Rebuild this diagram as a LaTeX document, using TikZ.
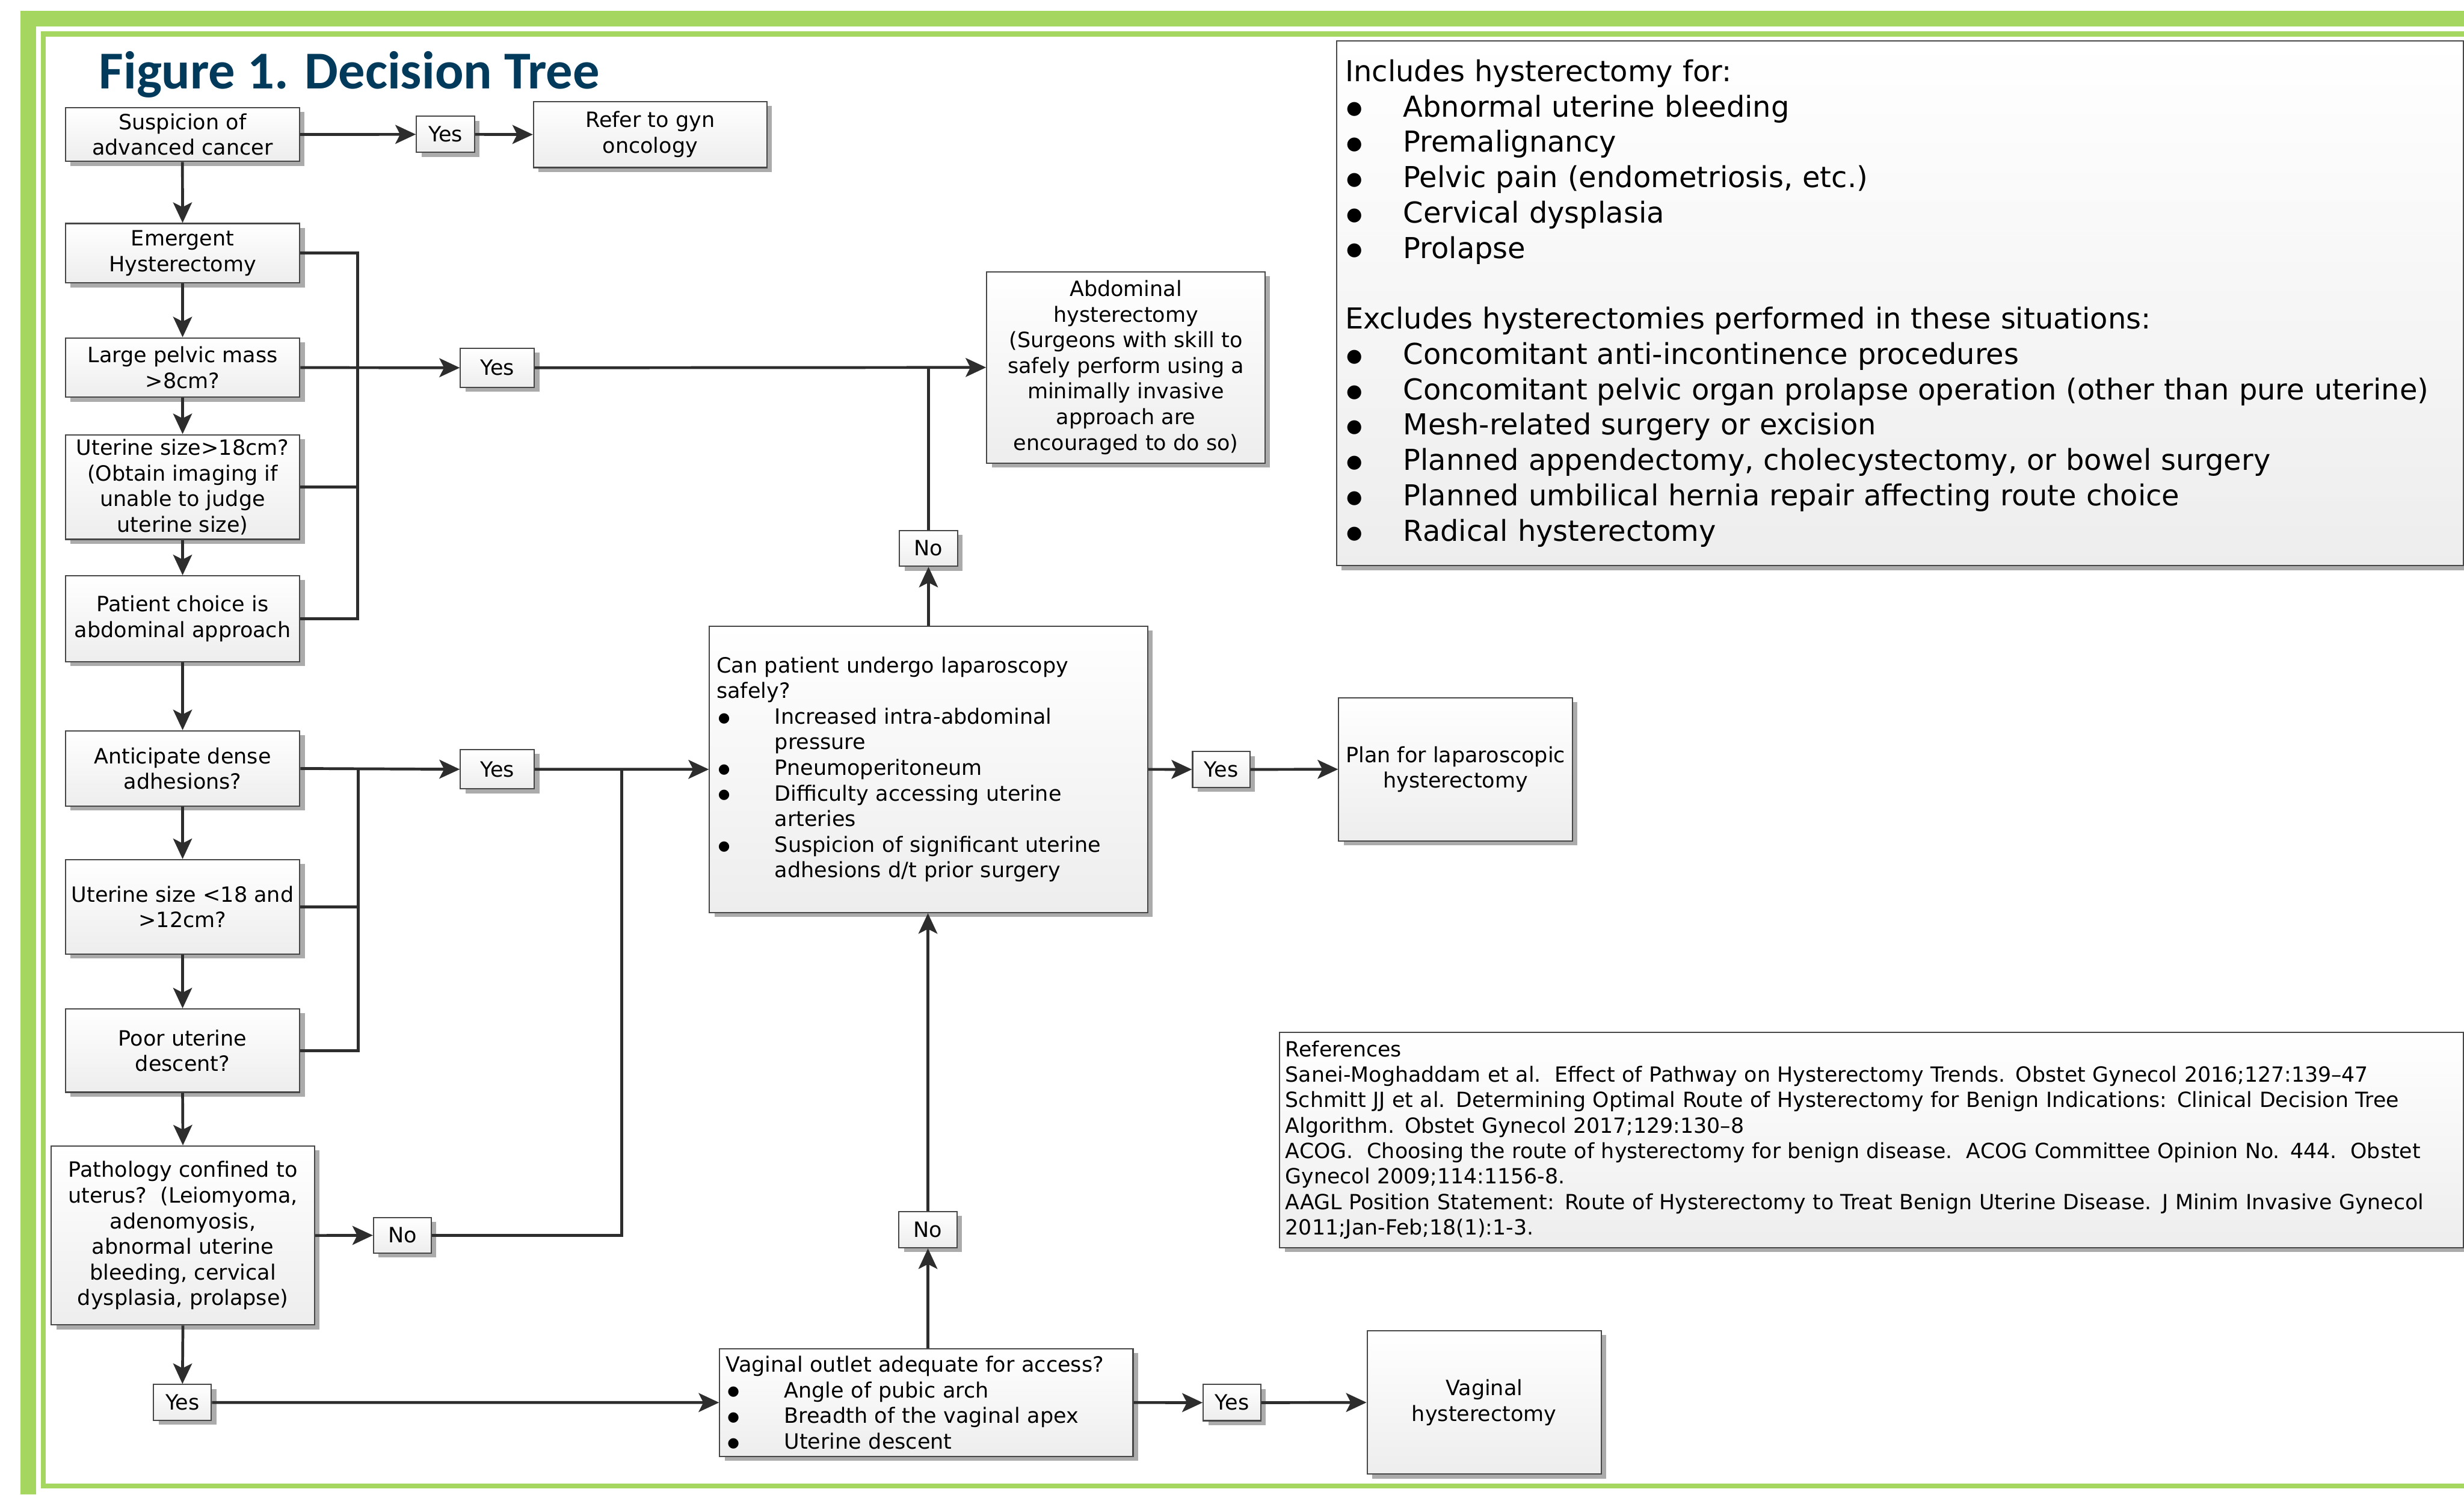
\documentclass[tikz,border=0pt]{standalone}
\usepackage{fontspec}
\setmainfont{DejaVu Sans}
\newfontfamily\titlefont{Carlito}
\usetikzlibrary{arrows.meta,shadows}
\definecolor{frameg}{RGB}{165,214,95}
\definecolor{titleblue}{RGB}{2,58,92}
\definecolor{linec}{RGB}{45,45,45}
\newcommand{\bulitem}{\makebox[37pt][l]{\hspace*{1pt}\raisebox{1.2pt}{\fontsize{8.6}{8.6}\selectfont ●}}}
\newcommand{\bigbulitem}{\makebox[37pt][l]{\hspace*{1pt}\raisebox{1.6pt}{\fontsize{11.6}{11.6}\selectfont ●}}}
\newcommand{\bulind}{\hspace*{37pt}}
\tikzset{
  fbox/.style={draw=black!72, line width=0.8pt, top color=white, bottom color=black!7,
    drop shadow={shadow xshift=3.2pt, shadow yshift=-2.8pt, fill=black!33, opacity=1},
    inner sep=0pt, align=center, font=\fontsize{13.4}{16.3}\selectfont},
  lbox/.style={fbox, align=left, inner xsep=4.5pt},
  conn/.style={draw=linec, line width=1.8pt},
  arr/.style={conn, -{Stealth[length=13pt,width=12pt,inset=3pt]}},
}
\begin{document}
\begin{tikzpicture}[x=1pt,y=-1pt]
\useasboundingbox (0,0) rectangle (1568,951);
% frame
\fill[frameg] (13,7) rectangle (1568,16.7);
\fill[frameg] (13,7) rectangle (23,951);
\fill[frameg] (26,20) rectangle (1568,23.5);
\fill[frameg] (26,20) rectangle (29,947);
\fill[frameg] (26,944) rectangle (1568,947);
% title
\node[anchor=base west, inner sep=0pt, text=titleblue,
  font=\titlefont\bfseries\fontsize{33.9}{40}\selectfont] (title) at (62.8,56.4) {Figure 1. Decision Tree};
% info boxes
\node[lbox, inner xsep=5.4pt, text width=706.1pt, minimum height=334.1pt,
  font=\fontsize{18.35}{22.5}\selectfont] (info) at (1209.05,192.95) {Includes hysterectomy for:\\
\bigbulitem Abnormal uterine bleeding\\
\bigbulitem Premalignancy\\
\bigbulitem Pelvic pain (endometriosis, etc.)\\
\bigbulitem Cervical dysplasia\\
\bigbulitem Prolapse\\[22.5pt]
Excludes hysterectomies performed in these situations:\\
\bigbulitem Concomitant anti-incontinence procedures\\
\bigbulitem Concomitant pelvic organ prolapse operation (other than pure uterine)\\
\bigbulitem Mesh-related surgery or excision\\
\bigbulitem Planned appendectomy, cholecystectomy, or bowel surgery\\
\bigbulitem Planned umbilical hernia repair affecting route choice\\
\bigbulitem Radical hysterectomy};
\node[lbox, inner xsep=3.6pt, text width=745.9pt, minimum height=137pt,
  font=\fontsize{13.3}{16.2}\selectfont] (refs) at (1190.95,725.3) {References\\
Sanei-Moghaddam et al.\ \ Effect of Pathway on Hysterectomy Trends. Obstet Gynecol 2016;127:139--47\\
Schmitt JJ et al. Determining Optimal Route of Hysterectomy for Benign Indications: Clinical Decision Tree\\
Algorithm. Obstet Gynecol 2017;129:130--8\\
ACOG.\ \ Choosing the route of hysterectomy for benign disease.\ \ ACOG Committee Opinion No. 444.\ \ Obstet\\
Gynecol 2009;114:1156-8.\\
AAGL Position Statement: Route of Hysterectomy to Treat Benign Uterine Disease. J Minim Invasive Gynecol\\
2011;Jan-Feb;18(1):1-3.};
% left column
\node[fbox, minimum width=148.8pt, minimum height=34.3pt] (susp) at (116.1,85.55) {Suspicion of\\advanced cancer};
\node[fbox, minimum width=37pt, minimum height=23pt] (yes1) at (283.5,85.5) {Yes};
\node[fbox, minimum width=148.5pt, minimum height=42pt] (refer) at (413.75,85.6) {Refer to gyn\\oncology};
\node[fbox, minimum width=149.2pt, minimum height=37.8pt] (emerg) at (116.2,161.1) {Emergent\\Hysterectomy};
\node[fbox, minimum width=149.2pt, minimum height=37.8pt] (large) at (116.2,233.9) {Large pelvic mass\\>8cm?};
\node[fbox, minimum width=149.2pt, minimum height=66.6pt] (ut18) at (116.2,309.9) {Uterine size>18cm?\\(Obtain imaging if\\unable to judge\\uterine size)};
\node[fbox, minimum width=149.2pt, minimum height=54.6pt] (patient) at (116.2,393.7) {Patient choice is\\abdominal approach};
\node[fbox, minimum width=47pt, minimum height=25pt] (yes2) at (316.5,234) {Yes};
\node[fbox, minimum width=177.1pt, minimum height=121.6pt] (abd) at (716.45,233.8) {Abdominal\\hysterectomy\\(Surgeons with skill to\\safely perform using a\\minimally invasive\\approach are\\encouraged to do so)};
\node[fbox, minimum width=36.9pt, minimum height=22.8pt] (no1) at (590.85,348.9) {No};
\node[fbox, minimum width=149.2pt, minimum height=48pt] (dense) at (116.2,489) {Anticipate dense\\adhesions?};
\node[fbox, minimum width=47pt, minimum height=25pt] (yes3) at (316.5,489.5) {Yes};
\node[fbox, minimum width=149.2pt, minimum height=60pt] (ut12) at (116.2,577) {Uterine size <18 and\\>12cm?};
\node[fbox, minimum width=149.2pt, minimum height=53pt] (poor) at (116.2,668.5) {Poor uterine\\descent?};
\node[fbox, minimum width=167.6pt, minimum height=113.9pt] (path) at (116.4,786.15) {Pathology confined to\\uterus?\ \ (Leiomyoma,\\adenomyosis,\\abnormal uterine\\bleeding, cervical\\dysplasia, prolapse)};
\node[fbox, minimum width=36.7pt, minimum height=22.7pt] (no3) at (256.05,786.05) {No};
\node[fbox, minimum width=36.8pt, minimum height=22.8pt] (yes5) at (116.1,892.4) {Yes};
\node[lbox, text width=269.9pt, minimum height=182.3pt] (lap) at (590.95,489.55) {Can patient undergo laparoscopy\\
safely?\\
\bulitem Increased intra-abdominal\\
\bulind pressure\\
\bulitem Pneumoperitoneum\\
\bulitem Difficulty accessing uterine\\
\bulind arteries\\
\bulitem Suspicion of significant uterine\\
\bulind adhesions d/t prior surgery};
\node[fbox, minimum width=36.5pt, minimum height=22.8pt] (yes4) at (777.15,489.6) {Yes};
\node[fbox, minimum width=148.7pt, minimum height=91pt] (plan) at (926.25,489.5) {Plan for laparoscopic\\hysterectomy};
\node[fbox, minimum width=37pt, minimum height=23pt] (no2) at (590.5,782.5) {No};
\node[lbox, inner xsep=4pt, text width=255pt, minimum height=68.5pt] (vag) at (589.5,892.45) {Vaginal outlet adequate for access?\\
\bulitem Angle of pubic arch\\
\bulitem Breadth of the vaginal apex\\
\bulitem Uterine descent};
\node[fbox, minimum width=36.7pt, minimum height=23pt] (yes6) at (784.05,892.5) {Yes};
\node[fbox, minimum width=149pt, minimum height=91.2pt] (vaghyst) at (944.5,892.4) {Vaginal\\hysterectomy};
% connectors
\draw[arr] (susp.east) -- (yes1.west);
\draw[arr] (yes1.east) -- (refer.west);
\draw[arr] (susp.south) -- (emerg.north);
\draw[arr] (emerg.south) -- (large.north);
\draw[arr] (large.south) -- (ut18.north);
\draw[arr] (ut18.south) -- (patient.north);
\draw[arr] (patient.south) -- (dense.north);
\draw[arr] (dense.south) -- (ut12.north);
\draw[arr] (ut12.south) -- (poor.north);
\draw[arr] (poor.south) -- (path.north);
\draw[arr] (path.south) -- (yes5.north);
\coordinate (b1) at (227.6,0);
\draw[conn] (emerg.east) -- (emerg.east -| b1) -- (patient.east -| b1) -- (patient.east);
\draw[conn] (ut18.east) -- (ut18.east -| b1);
\draw[arr] (large.east) -- (yes2.west);
\draw[arr] (yes2.east) -- (abd.west);
\draw[conn] (no1.north) -- (no1.north |- abd.west);
\draw[arr] (lap.north -| no1.south) -- (no1.south);
\draw[arr] (dense.east) -- (yes3.west);
\draw[arr] (yes3.east) -- (lap.west);
\coordinate (b2) at (228,0);
\draw[conn] (dense.east -| b2) -- (poor.east -| b2) -- (poor.east);
\draw[conn] (ut12.east) -- (ut12.east -| b2);
\draw[arr] (path.east) -- (no3.west);
\coordinate (b3) at (395.6,0);
\draw[conn] (no3.east) -- (no3.east -| b3) -- (yes3.east -| b3);
\draw[arr] (lap.east) -- (yes4.west);
\draw[arr] (yes4.east) -- (plan.west);
\draw[arr] (yes5.east) -- (vag.west);
\draw[arr] (vag.east) -- (yes6.west);
\draw[arr] (yes6.east) -- (vaghyst.west);
\draw[arr] (no2.south |- vag.north) -- (no2.south);
\draw[arr] (no2.north) -- (no2.north |- lap.south);
\end{tikzpicture}
\end{document}
